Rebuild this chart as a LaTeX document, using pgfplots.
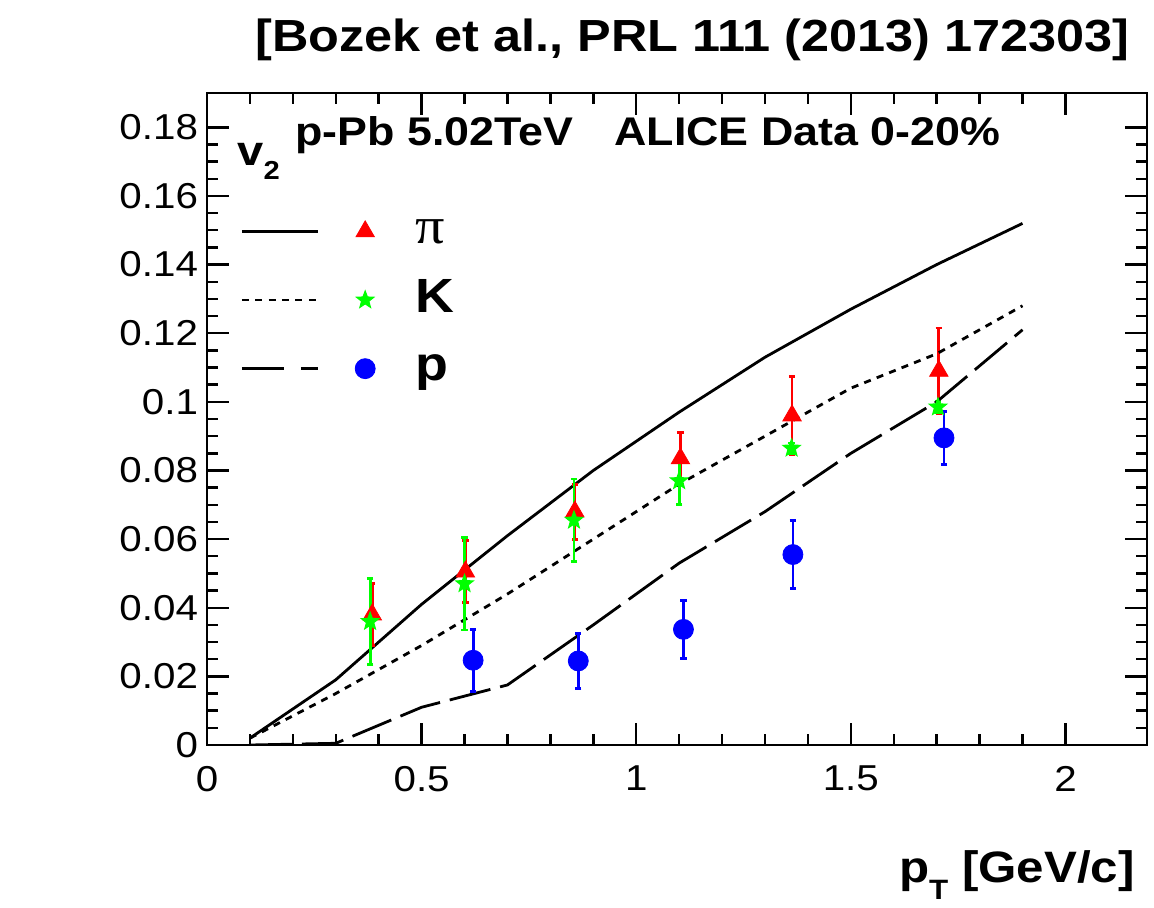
\documentclass[border=0pt]{standalone}
\usepackage{pgfplots}
\pgfplotsset{compat=1.18}
\usepackage{fontspec}
\setmainfont{Liberation Sans}[FakeStretch=1.12]
\newfontfamily\greekserif{Liberation Serif}[FakeStretch=1.12]

\pgfplotstableread{
x y e
0.385 0.038 0.009
0.602 0.0505 0.009
0.857 0.068 0.008
1.103 0.0835 0.0075
1.363 0.096 0.0115
1.705 0.109 0.0125
}\pidata
\pgfplotstableread{
x y e
0.380 0.036 0.0125
0.600 0.047 0.0135
0.855 0.0655 0.012
1.100 0.077 0.007
1.362 0.0865 0.0015
1.703 0.0985 0.0015
}\kdata
\pgfplotstableread{
x y e
0.620 0.0247 0.009
0.865 0.0245 0.008
1.110 0.0337 0.0085
1.365 0.0555 0.010
1.717 0.0895 0.0077
}\pdata

\pgfdeclareplotmark{fstar}{%
  \pgfpathmoveto{\pgfqpointpolar{90}{\pgfplotmarksize}}%
  \pgfpathlineto{\pgfqpointpolar{126}{0.42\pgfplotmarksize}}%
  \pgfpathlineto{\pgfqpointpolar{162}{\pgfplotmarksize}}%
  \pgfpathlineto{\pgfqpointpolar{198}{0.42\pgfplotmarksize}}%
  \pgfpathlineto{\pgfqpointpolar{234}{\pgfplotmarksize}}%
  \pgfpathlineto{\pgfqpointpolar{270}{0.42\pgfplotmarksize}}%
  \pgfpathlineto{\pgfqpointpolar{306}{\pgfplotmarksize}}%
  \pgfpathlineto{\pgfqpointpolar{342}{0.42\pgfplotmarksize}}%
  \pgfpathlineto{\pgfqpointpolar{18}{\pgfplotmarksize}}%
  \pgfpathlineto{\pgfqpointpolar{54}{0.42\pgfplotmarksize}}%
  \pgfpathclose
  \pgfusepathqfillstroke}

\pgfplotsset{
  legsolid/.style={legend image code/.code={\draw[black, line width=1.4pt] (0pt,0pt) -- (38pt,0pt);}},
  legdot/.style={legend image code/.code={\draw[black, line width=1.4pt, dash pattern=on 3.5pt off 3.2pt] (0pt,0pt) -- (38pt,0pt);}},
  legdash/.style={legend image code/.code={\draw[black, line width=1.4pt] (0pt,0pt) -- (23.5pt,0pt) (29.5pt,0pt) -- (38pt,0pt);}},
}
\definecolor{kgreen}{RGB}{0,255,0}

\begin{document}
\begin{tikzpicture}
\path[use as bounding box] (-103.5pt,-81pt) rectangle (473.5pt,372.5pt);
\begin{axis}[
  scale only axis, width=470pt, height=326pt,
  xmin=0, xmax=2.19, ymin=0, ymax=0.19,
  xtick={0,0.5,1,1.5,2}, xticklabels={0,0.5,1,1.5,2},
  ytick={0,0.02,0.04,0.06,0.08,0.1,0.12,0.14,0.16,0.18},
  yticklabels={0,0.02,0.04,0.06,0.08,0.1,0.12,0.14,0.16,0.18},
  minor x tick num=4, minor y tick num=3,
  tick align=inside, major tick length=11pt, minor tick length=5.5pt,
  axis line style={line width=1.3pt},
  tick style={line width=1.2pt, black},
  tick label style={font=\fontsize{18}{20}\selectfont},
  xticklabel style={yshift=-7pt},
  yticklabel style={xshift=-1pt},
  legend columns=2,
  legend cell align=left,
  legend style={at={(0.0351,0.822)}, anchor=north west, draw=none, fill=none,
    inner sep=0pt, row sep=12.3pt,
    nodes={inner sep=0pt, text height=17pt, text depth=5pt},
    /tikz/column 2/.style={column sep=17pt},
    /tikz/column 3/.style={column sep=20pt}},
]
\addplot[black, line width=1.4pt, legsolid]
  coordinates {(0.1,0.002)(0.3,0.019)(0.5,0.041)(0.7,0.061)(0.9,0.080)(1.1,0.097)(1.3,0.113)(1.5,0.127)(1.7,0.140)(1.9,0.152)};
\addlegendentry{\relax}
\addplot[only marks, red, mark=triangle*, mark size=5.3pt, mark options={fill=red, draw=red},
  error bars/.cd, y dir=both, y explicit,
  error bar style={line width=1.4pt, red},
  error mark options={rotate=90, line width=1.4pt, mark size=1.6pt, red}]
  table[x=x, y=y, y error=e] {\pidata};
\addlegendentry{\fontsize{26}{26}\selectfont\greekserif π}
\addplot[black, line width=1.4pt, dash pattern=on 3.5pt off 3.2pt, legdot]
  coordinates {(0.1,0.002)(0.3,0.015)(0.5,0.029)(0.7,0.044)(0.9,0.060)(1.1,0.076)(1.3,0.090)(1.5,0.104)(1.7,0.114)(1.9,0.128)};
\addlegendentry{\relax}
\addplot[only marks, kgreen, mark=fstar, mark size=4.6pt,
  mark options={line width=0.5pt, fill=kgreen, draw=kgreen},
  error bars/.cd, y dir=both, y explicit,
  error bar style={line width=1.4pt, kgreen},
  error mark options={rotate=90, line width=1.4pt, mark size=1.6pt, kgreen}]
  table[x=x, y=y, y error=e] {\kdata};
\addlegendentry{\fontsize{24}{24}\selectfont\bfseries K}
\addplot[black, line width=1.4pt, dash pattern=on 21pt off 5pt, legdash]
  coordinates {(0.1,0.0)(0.3,0.0005)(0.5,0.011)(0.7,0.0175)(0.9,0.035)(1.1,0.053)(1.3,0.068)(1.5,0.085)(1.7,0.100)(1.9,0.121)};
\addlegendentry{\relax}
\addplot[only marks, blue, mark=*, mark size=5pt, mark options={fill=blue, draw=blue},
  error bars/.cd, y dir=both, y explicit,
  error bar style={line width=1.4pt, blue},
  error mark options={rotate=90, line width=1.4pt, mark size=1.6pt, blue}]
  table[x=x, y=y, y error=e] {\pdata};
\addlegendentry{\fontsize{24}{24}\selectfont\bfseries p}
\end{axis}
\node[anchor=base east, inner sep=0pt, font=\fontsize{22.5}{24}\selectfont\bfseries] at (461.5pt,346.5pt) {[Bozek et al., PRL 111 (2013) 172303]};
\node[anchor=base west, inner sep=0pt, font=\fontsize{20}{22}\selectfont\bfseries] at (44pt,300pt) {p-Pb 5.02TeV};
\node[anchor=base west, inner sep=0pt, font=\fontsize{20}{22}\selectfont\bfseries] at (203.5pt,300pt) {ALICE Data 0-20\%};
\node[anchor=base west, inner sep=0pt, font=\fontsize{21}{22}\selectfont\bfseries] at (15pt,290pt) {v\raisebox{-0.35em}{\fontsize{13}{14}\selectfont 2}};
\node[anchor=base east, inner sep=0pt, font=\fontsize{22}{24}\selectfont\bfseries] at (464pt,-68.5pt) {p\raisebox{-0.4em}{\fontsize{14}{15}\selectfont T} [GeV/c]};
\end{tikzpicture}
\end{document}
